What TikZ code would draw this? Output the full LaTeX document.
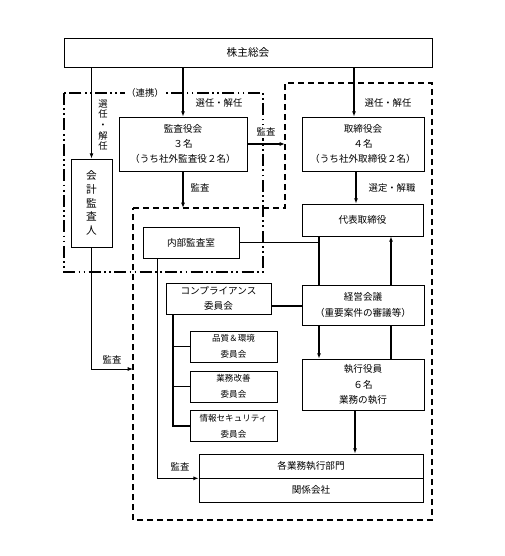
\documentclass[tikz,border=0pt]{standalone}
\usepackage{fontspec}
\setmainfont{Noto Sans CJK JP}
\usetikzlibrary{arrows.meta}

\tikzset{
  box/.style={draw, line width=0.5pt, inner sep=0pt, align=center, fill=white, font=\fontsize{7.2}{11.5}\selectfont},
  smallbox/.style={box, font=\fontsize{6.4}{11.8}\selectfont},
  conn/.style={line width=1pt},
  thinconn/.style={line width=0.7pt},
  arr/.style={conn, -{Latex[length=4pt,width=3pt]}},
  lbl/.style={inner sep=1pt, font=\fontsize{7}{8}\selectfont},
  dashbox/.style={line width=1.6pt, dash pattern=on 4.5pt off 3pt},
  dotbox/.style={line width=1.6pt, dash pattern=on 9pt off 2.5pt on 1.3pt off 2.5pt on 1.3pt off 2.5pt},
}

\begin{document}
\begin{tikzpicture}[x=0.75pt,y=0.75pt,yscale=-1,xscale=1]
\useasboundingbox (0,0) rectangle (504,556);

%Shape: dashed and dash-dot areas
\draw [dotbox] (64,93) rectangle (263,272);
\draw [dashbox] (133,208) -- (285,208) -- (285,83) -- (432,83) -- (432,520) -- (133,520) -- cycle;
\coordinate (kansaEnd) at (183,208);
\coordinate (torisEdge) at (285,144);
\coordinate (kaikeiEnd) at (133,369);

% Boxes
\node [box, font=\fontsize{8}{10}\selectfont, minimum width=276pt, minimum height=21.75pt] (kabunushi) at (248,52.5) {株主総会};
\node [box, minimum width=96pt, minimum height=40.5pt] (kansayaku) at (183,144) {監査役会\\３名\\（うち社外監査役２名）};
\node [box, minimum width=91.5pt, minimum height=40.5pt] (torishimari) at (363,144) {取締役会\\４名\\（うち社外取締役２名）};
\node [box, font=\fontsize{8}{10.3}\selectfont, minimum width=30.75pt, minimum height=66pt] (kaikei) at (91.5,203) {会\\計\\監\\査\\人};
\node [box, minimum width=90.75pt, minimum height=24pt] (daihyo) at (362.5,220) {代表取締役};
\node [box, minimum width=72pt, minimum height=23.25pt] (naibu) at (191,242.5) {内部監査室};
\node [box, minimum width=78.75pt, minimum height=23.25pt] (comp) at (218.5,298.5) {コンプライアンス\\委員会};
\node [box, minimum width=91.5pt, minimum height=30pt] (keiei) at (363,305) {経営会議\\（重要案件の審議等）};
\node [box, minimum width=91.5pt, minimum height=38.25pt] (shikko) at (363,384.5) {執行役員\\６名\\業務の執行};
\node [smallbox, minimum width=65.25pt, minimum height=23.25pt] (hinshitsu) at (233.5,346.5) {品質＆環境\\委員会};
\node [smallbox, minimum width=65.25pt, minimum height=23.25pt] (kaizen) at (233.5,386.5) {業務改善\\委員会};
\node [smallbox, minimum width=65.25pt, minimum height=23.25pt] (joho) at (233.5,426) {情報セキュリティ\\委員会};
\node [box, minimum width=168pt, minimum height=18pt] (bumon) at (311,466) {各業務執行部門};
\node [box, minimum width=168pt, minimum height=18pt] (kankei) at (311,490) {関係会社};

%Straight Lines
\draw [arr] (kabunushi.south -| kaikei.north) -- (kaikei.north);
\draw [arr] (kabunushi.south -| kansayaku.north) -- (kansayaku.north);
\draw [arr] (kabunushi.south -| 354,0) -- (torishimari.north -| 354,0);
\draw [arr] (kansayaku.east |- torisEdge) -- (torisEdge);
\draw [arr] (kansayaku.south) -- (kansaEnd);
\draw [arr] (torishimari.south -| 356,0) -- (daihyo.north -| 356,0);
\draw [conn] (daihyo.south -| 319,0) -- (keiei.north -| 319,0);
\draw [thinconn] (naibu.east) -- (naibu.east -| 319,0);
\draw [arr] (keiei.north -| 391,0) -- (daihyo.south -| 391,0);
\draw [conn] (shikko.north -| 391,0) -- (keiei.south -| 391,0);
\draw [arr] (keiei.south -| 319,0) -- (shikko.north -| 319,0);
\draw [conn] (comp.east |- 0,306) -- (keiei.west |- 0,306);
\draw [arr] (shikko.south -| 355,0) -- (bumon.north -| 355,0);
\draw [thinconn, -{Latex[length=4pt,width=3pt]}] (naibu.south -| 157,0) |- (bumon.south west);
\draw [thinconn, -{Latex[length=4pt,width=3pt]}] (kaikei.south) |- (kaikeiEnd);
\draw [conn] (comp.south -| 173,0) |- (joho.west);
\draw [thinconn] (hinshitsu.west -| 173,0) -- (hinshitsu.west);
\draw [thinconn] (kaizen.west -| 173,0) -- (kaizen.west);

% Text Node
\node [lbl, fill=white] (renkei) at (145,93) {（連携）};
\node [lbl, align=center] (senninL) at (103,125) {選\\任\\・\\解\\任};
\node [lbl] (senninM) at (219,103) {選任・解任};
\node [lbl] (senninR) at (388,103) {選任・解任};
\node [lbl, fill=white] (kansaR) at (266,132) {監査};
\node [lbl] (kansaD) at (200,188) {監査};
\node [lbl] (sentei) at (392,188) {選定・解職};
\node [lbl] (kansaK) at (112,360) {監査};
\node [lbl] (kansaN) at (180,467) {監査};
\end{tikzpicture}
\end{document}
